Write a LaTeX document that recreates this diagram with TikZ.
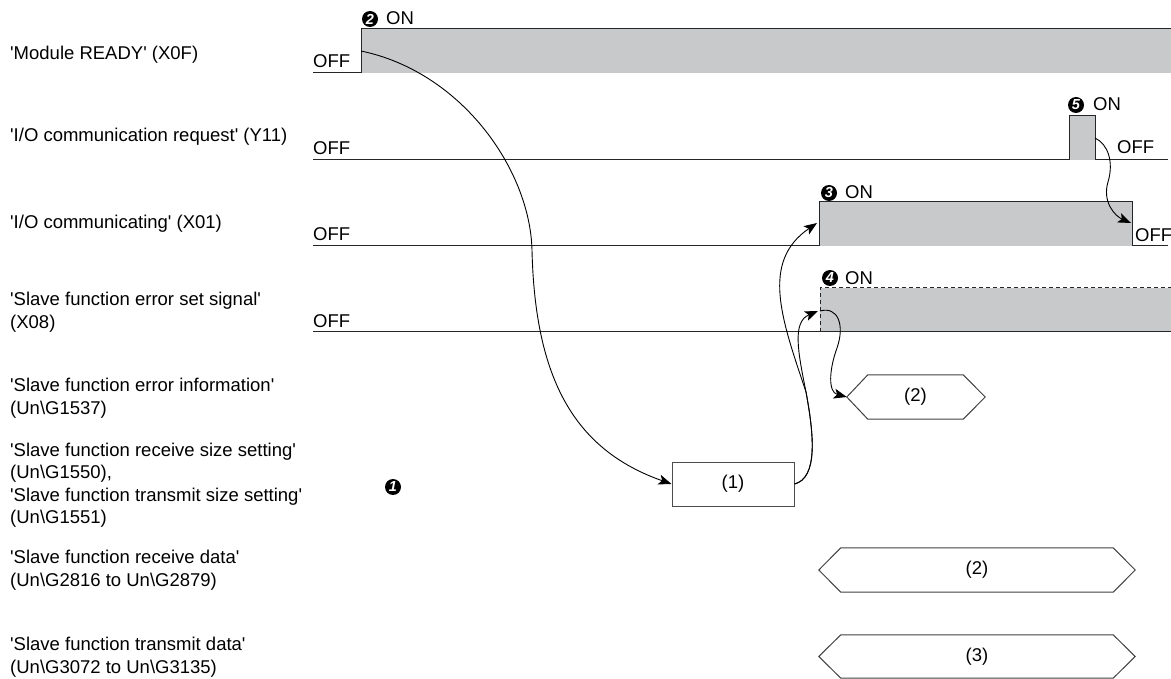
\documentclass[tikz,border=0pt]{standalone}
\usepackage{fontspec}
\setmainfont{Liberation Sans}
\usetikzlibrary{arrows.meta}
\definecolor{sig}{RGB}{200,201,203}
\newcommand\sq{\textquotesingle}
\begin{document}
\begin{tikzpicture}[x=1pt,y=-1pt,
  lbl/.style={anchor=west,align=left,inner sep=0pt,font=\fontsize{18.5}{22.5}\selectfont},
  offl/.style={anchor=base west,inner sep=0pt,font=\fontsize{18.5}{22}\selectfont},
  numc/.style={circle,fill=black,text=white,inner sep=0pt,minimum size=16pt,font=\fontsize{14.5}{14.5}\selectfont\bfseries\itshape},
  wave/.style={line width=1pt,draw=black!85},
  conn/.style={line width=0.9pt,-{Stealth[length=13pt,width=10pt,inset=3pt]}},
  hexl/.style={line width=1pt,draw=black!75},
  hexbox/.style={minimum height=44pt,inner sep=0pt,font=\fontsize{18.5}{22}\selectfont},
]
\useasboundingbox (0,0) rectangle (1171,679);

% ---- left labels
\node[lbl] (l1) at (10,55) {\sq Module READY\sq{} (X0F)};
\node[lbl] (l2) at (10,137) {\sq I/O communication request\sq{} (Y11)};
\node[lbl] (l3) at (10,224) {\sq I/O communicating\sq{} (X01)};
\node[lbl] (l4) at (10,312) {\sq Slave function error set signal\sq\\(X08)};
\node[lbl] (l5) at (10,398) {\sq Slave function error information\sq\\(Un\textbackslash G1537)};
\node[lbl] (l6) at (10,485) {\sq Slave function receive size setting\sq\\(Un\textbackslash G1550),\\\sq Slave function transmit size setting\sq\\(Un\textbackslash G1551)};
\node[lbl] (l7) at (10,570) {\sq Slave function receive data\sq\\(Un\textbackslash G2816 to Un\textbackslash G2879)};
\node[lbl] (l8) at (10,657) {\sq Slave function transmit data\sq\\(Un\textbackslash G3072 to Un\textbackslash G3135)};

% ---- waveforms
% row 1
\fill[sig] (361,29) rectangle (1171,73);
\draw[wave] (313,73) -- (361,73) -- (361,29) -- (1171,29);
% row 2
\fill[sig] (1069,116) rectangle (1095,160);
\draw[wave] (313,160) -- (1069,160) -- (1069,116) -- (1095,116) -- (1095,160) -- (1168,160);
% row 3
\fill[sig] (819,202) rectangle (1132,246);
\draw[wave] (313,246) -- (819,246) -- (819,202) -- (1132,202) -- (1132,246) -- (1168,246);
% row 4
\fill[sig] (820,288) rectangle (1171,332);
\draw[wave] (313,332) -- (1171,332);
\draw[wave,dash pattern=on 4pt off 3pt] (820,332) -- (820,288) -- (1171,288);

% ---- OFF / ON labels
\node[offl] (off1) at (313,68) {OFF};
\node[offl] (off2) at (313,155) {OFF};
\node[offl] (off2r) at (1117,154) {OFF};
\node[offl] (off3) at (313,241) {OFF};
\node[offl] (off3r) at (1135,242) {OFF};
\node[offl] (off4) at (313,327) {OFF};

\node[numc] (n2) at (370,19) {2};
\node[offl] (on2) at (386,25) {ON};
\node[numc] (n5) at (1076,105) {5};
\node[offl] (on5) at (1093,111) {ON};
\node[numc] (n3) at (829,193) {3};
\node[offl] (on3) at (845,199) {ON};
\node[numc] (n4) at (830,278) {4};
\node[offl] (on4) at (845,285) {ON};
\node[numc] (n1) at (393,487) {1};

% ---- box and hexagons
\node[draw=black!70,line width=1pt,minimum width=122pt,minimum height=44pt,inner sep=0pt,font=\fontsize{18.5}{22}\selectfont] (b1) at (733,484) {(1)};

\node[hexbox,minimum width=95pt] (hs) at (915.5,397) {(2)};
\draw[hexl] (hs.north west) -- (hs.north east) -- ([xshift=22pt]hs.east) -- (hs.south east) -- (hs.south west) -- ([xshift=-21pt]hs.west) -- cycle;
\coordinate (hstip) at ([xshift=-21pt]hs.west);

\node[hexbox,minimum width=272pt] (h2) at (977,570) {(2)};
\draw[hexl] (h2.north west) -- (h2.north east) -- ([xshift=22pt]h2.east) -- (h2.south east) -- (h2.south west) -- ([xshift=-22pt]h2.west) -- cycle;

\node[hexbox,minimum width=272pt,minimum height=43pt] (h3) at (977,656.5) {(3)};
\draw[hexl] (h3.north west) -- (h3.north east) -- ([xshift=22pt]h3.east) -- (h3.south east) -- (h3.south west) -- ([xshift=-22pt]h3.west) -- cycle;

% ---- connector end points
\coordinate (x0fr) at (361,51);
\coordinate (x01in) at (817,223);
\coordinate (x08in) at (818,311);
\coordinate (x08out) at (820,311);
\coordinate (y11f) at (1095,138);
\coordinate (x01f) at (1131,223);

% ---- connectors
\draw[conn] (x0fr) .. controls (462,72) and (530,170) .. (532,250)
                   .. controls (535,380) and (575,450) .. (b1.west);
\draw[conn] (b1.east) .. controls (818,478) and (814,435) .. (806,392)
                      .. controls (782,320) and (760,262) .. (x01in);
\draw[conn] (b1.east) .. controls (818,478) and (814,435) .. (806,392)
                      .. controls (798,352) and (792,322) .. (x08in);
\draw[conn] (x08out) .. controls (838,306) and (845,325) .. (837,348)
                     .. controls (829,370) and (828,392) .. (hstip);
\draw[conn] (y11f) .. controls (1108,144) and (1114,162) .. (1108,182)
                   .. controls (1102,202) and (1115,216) .. (x01f);
\end{tikzpicture}
\end{document}
